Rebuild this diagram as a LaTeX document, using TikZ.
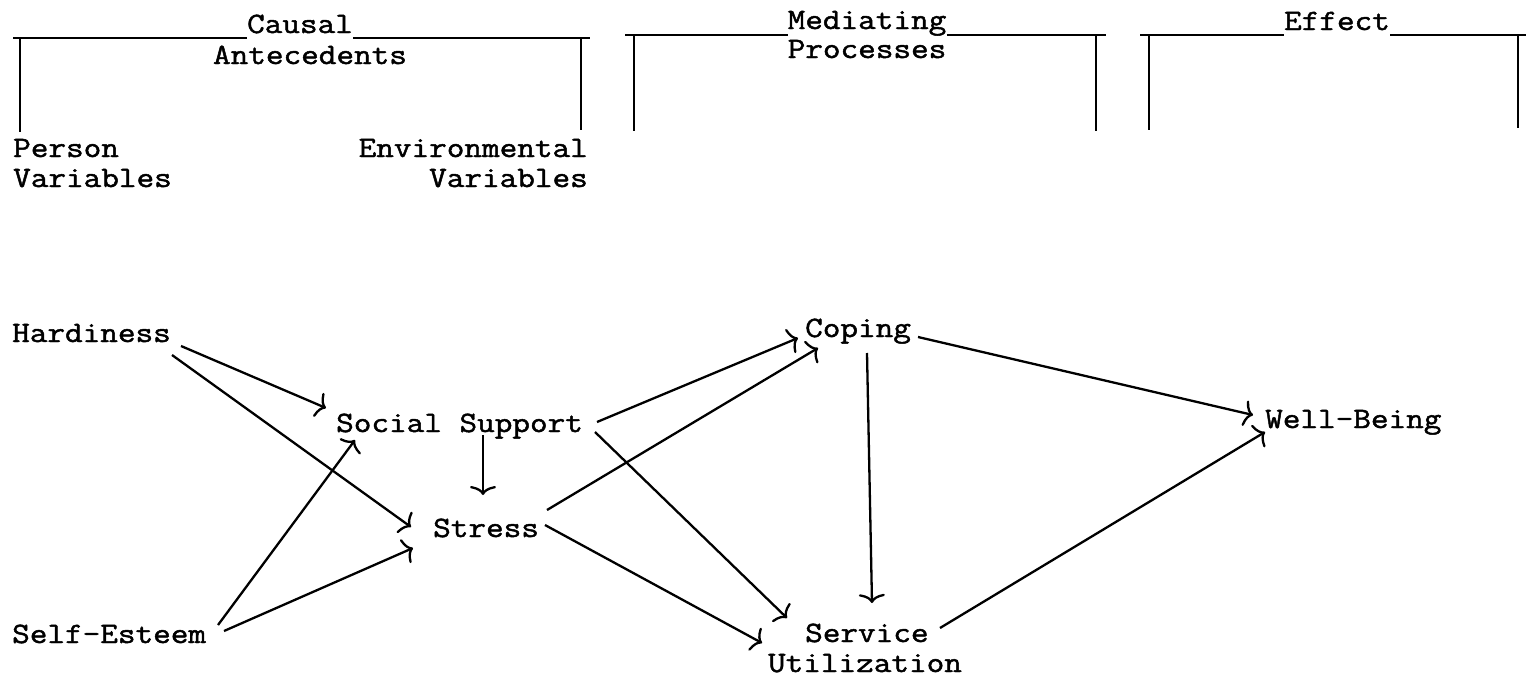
\documentclass[tikz,border=0pt]{standalone}
\usepackage{fontspec}
\setmainfont{Latin Modern Mono}[FakeStretch=1.16,AutoFakeBold=1.6]
\usetikzlibrary{arrows.meta}
\begin{document}
\begin{tikzpicture}[x=1pt,y=-1pt,
  lbl/.style={inner sep=0pt, font=\fontsize{29.5}{30}\selectfont\bfseries},
  conn/.style={line width=2.3pt, -{To[length=9pt,width=26pt,line width=2.3pt]}},
  rule/.style={line width=2pt},
  post/.style={line width=1.3pt}]
\useasboundingbox (0,0) rectangle (1526,680);
% header: causal antecedents
\node[lbl, anchor=base] (causal) at (300,33) {Causal};
\node[lbl, anchor=base] (antec) at (310,64) {Antecedents};
\node[lbl, anchor=base west] (person) at (13,157) {Person};
\node[lbl, anchor=base west] (pvar) at (13,187) {Variables};
\node[lbl, anchor=base east] (envir) at (588,157) {Environmental};
\node[lbl, anchor=base east] (evar) at (588,187) {Variables};
\draw[rule] (13,38) -- (causal.west |- 0,38);
\draw[rule] (causal.east |- 0,38) -- (590,38);
\draw[post] (20,38) -- (20,132);
\draw[post] (581,38) -- (581,130);
% header: mediating processes
\node[lbl, anchor=base] (mediat) at (867,29) {Mediating};
\node[lbl, anchor=base] (proc) at (867,58) {Processes};
\draw[rule] (625,35) -- (mediat.west |- 0,35);
\draw[rule] (mediat.east |- 0,35) -- (1106,35);
\draw[post] (634,35) -- (634,131);
\draw[post] (1096,35) -- (1096,131);
% header: effect
\node[lbl, anchor=base] (effect) at (1337,30) {Effect};
\draw[rule] (1140,35) -- (effect.west |- 0,35);
\draw[rule] (effect.east |- 0,35) -- (1526,35);
\draw[post] (1149,35) -- (1149,130);
\draw[post] (1518,35) -- (1518,128);
% model nodes
\node[lbl, anchor=base west] (hard) at (12,342) {Hardiness};
\node[lbl, anchor=base west] (soc) at (336,432) {Social Support};
\node[lbl, anchor=base west] (stress) at (433,537) {Stress};
\node[lbl, anchor=base west] (self) at (12,643) {Self-Esteem};
\node[lbl, anchor=base west] (coping) at (805,337) {Coping};
\node[lbl, anchor=base west] (wb) at (1265,428) {Well-Being};
\node[lbl, anchor=base west] (serv) at (805,642) {Service};
\node[lbl, anchor=base] (util) at (865,672) {Utilization};
% connectors
\draw[conn] ([shift={(169,4)}]hard.base west) -- ([shift={(-10,-24)}]soc.base west);
\draw[conn] ([shift={(160,13)}]hard.base west) -- ([shift={(-22,-10)}]stress.base west);
\draw[conn] ([shift={(206,-18)}]self.base west) -- ([shift={(19,8)}]soc.base west);
\draw[conn] ([shift={(212,-12)}]self.base west) -- ([shift={(-20,11)}]stress.base west);
\draw[conn] ([shift={(147,3)}]soc.base west) -- ([shift={(50,-42)}]stress.base west);
\draw[conn] ([shift={(261,-10)}]soc.base west) -- ([shift={(-7,1)}]coping.base west);
\draw[conn] ([shift={(259,0)}]soc.base west) -- ([shift={(-18,-24)}]serv.base west);
\draw[conn] ([shift={(114,-27)}]stress.base west) -- ([shift={(13,11)}]coping.base west);
\draw[conn] ([shift={(112,-12)}]stress.base west) -- ([shift={(-43,1)}]serv.base west);
\draw[conn] ([shift={(113,0)}]coping.base west) -- ([shift={(-12,-13)}]wb.base west);
\draw[conn] ([shift={(62,16)}]coping.base west) -- ([shift={(67,-39)}]serv.base west);
\draw[conn] ([shift={(135,-14)}]serv.base west) -- ([shift={(0,4)}]wb.base west);
\end{tikzpicture}
\end{document}
